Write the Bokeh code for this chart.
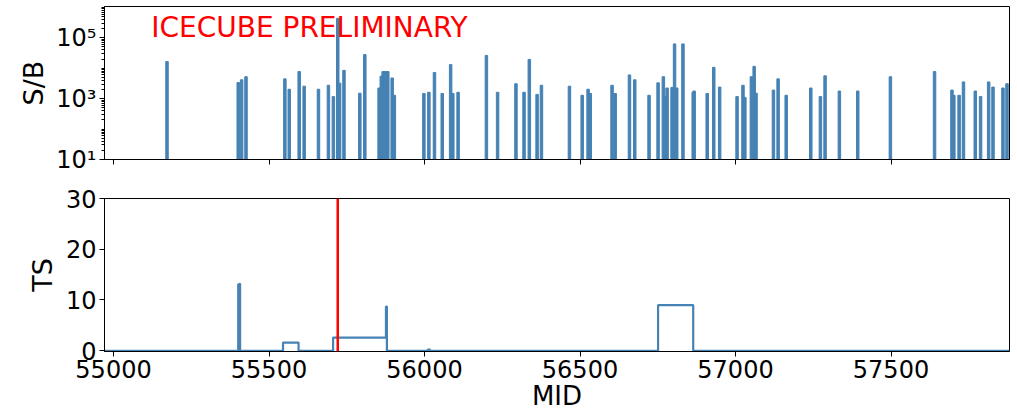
from bokeh.plotting import figure
from bokeh.layouts import column
from bokeh.models import Range1d, FixedTicker, Span, Label
from bokeh.embed import file_html
from bokeh.resources import INLINE

# ---- data ----
flare_mjd = [55172, 55401, 55412, 55426, 55551, 55565, 55597, 55613, 55659, 55691,
             55707, 55721, 55727, 55741, 55792, 55808, 55854, 55861, 55867, 55875,
             55882, 55896, 55903, 55998, 56014, 56032, 56057, 56084, 56091, 56108,
             56199, 56235, 56294, 56320, 56337, 56362, 56376, 56466, 56507, 56526,
             56533, 56603, 56613, 56659, 56676, 56722, 56751, 56768, 56774, 56780,
             56796, 56804, 56811, 56831, 56864, 56867, 56909, 56930, 56949, 57005,
             57024, 57030, 57051, 57060, 57066, 57122, 57137, 57163, 57242, 57273,
             57288, 57334, 57393, 57498, 57640, 57696, 57702, 57719, 57733, 57771,
             57788, 57814, 57828, 57860, 57873]
flare_sb = [16600, 3390, 4170, 5250, 4470, 2040, 7760, 2570, 2040, 2750,
            1170, 436000, 3240, 8510, 1510, 28200, 2240, 5500, 7760, 7760,
            7760, 4790, 1290, 1480, 1620, 7240, 1480, 13200, 1480, 1620,
            26300, 1620, 3090, 1620, 19500, 1380, 2750, 2570, 1290, 2040,
            1480, 2750, 1480, 6030, 4170, 1290, 3310, 5250, 1170, 2240,
            2340, 63100, 2240, 63100, 1620, 1780, 1480, 10700, 2400, 1170,
            2750, 1100, 5250, 11500, 1510, 1910, 4470, 1290, 2240, 1170,
            5620, 1780, 1780, 5250, 7760, 1910, 1290, 1290, 3550, 1780,
            1170, 3550, 2400, 2240, 3090]

ts_mjd = [54971, 55401, 55403, 55405, 55407, 55545, 55595, 55706, 55876, 55879, 56010, 56018, 56751, 56864, 57881]
ts_val = [0.0, 13.1, 12.8, 13.2, 0.0, 1.6, 0.0, 2.6, 8.7, 0.0, 0.2, 0.0, 9.0, 0.0, 0.0]

best_mjd = 55721

x_ticks = [55000, 55500, 56000, 56500, 57000, 57500]
sb_ticks = [10, 1000, 100000]
sb_labels = {10: "10¹", 1000: "10³", 100000: "10⁵"}
ts_ticks = [0, 10, 20, 30]

FONT = "DejaVu Sans"
BLUE = "#4682b4"

x_lo, x_hi = 54971, 57881
minor_sb = [m * 10 ** k for k in range(1, 6) for m in range(1, 10)] + [1000000]

# ---- top panel ----
p1 = figure(width=1017, height=178, output_backend="svg", toolbar_location=None,
            y_axis_type="log", x_range=Range1d(x_lo, x_hi), y_range=Range1d(10, 1.07e6),
            min_border_left=104, min_border_right=8, min_border_top=6, min_border_bottom=19)
p1.vbar(x=flare_mjd, top=flare_sb, bottom=10, width=8, color=BLUE)
p1.grid.visible = False
p1.outline_line_color = "black"
p1.outline_line_width = 1
p1.xaxis.ticker = FixedTicker(ticks=x_ticks)
p1.xaxis.major_label_text_font_size = "1px"
p1.xaxis.major_label_text_color = None
p1.xaxis.major_tick_out = 5
p1.xaxis.major_tick_in = 0
p1.xaxis.minor_tick_line_color = None
p1.yaxis.ticker = FixedTicker(ticks=sb_ticks, minor_ticks=minor_sb)
p1.yaxis.major_label_overrides = sb_labels
p1.yaxis.major_label_text_font = FONT
p1.yaxis.major_label_text_font_size = "24px"
p1.yaxis.major_label_text_color = "black"
p1.yaxis.major_label_standoff = 3
p1.yaxis.major_tick_out = 5
p1.yaxis.major_tick_in = 0
p1.yaxis.minor_tick_out = 3
p1.yaxis.minor_tick_in = 0
p1.yaxis.axis_label = "S/B"
p1.yaxis.axis_label_text_font = FONT
p1.yaxis.axis_label_text_font_size = "27px"
p1.yaxis.axis_label_text_font_style = "normal"
p1.yaxis.axis_label_text_color = "black"
p1.yaxis.axis_label_standoff = 4
p1.axis.axis_line_color = "black"
p1.add_layout(Label(x=55121, y=2.25e5, text="ICECUBE PRELIMINARY", text_color="red",
                    text_font=FONT, text_font_size="28px", text_baseline="alphabetic"))

# ---- bottom panel ----
p2 = figure(width=1017, height=236, output_backend="svg", toolbar_location=None,
            x_range=p1.x_range, y_range=Range1d(-0.15, 30),
            min_border_left=104, min_border_right=8, min_border_top=20, min_border_bottom=63)
p2.step(x=ts_mjd, y=ts_val, mode="after", line_color=BLUE, line_width=2.2)
p2.add_layout(Span(location=best_mjd, dimension="height", line_color="red", line_width=2.5))
p2.grid.visible = False
p2.outline_line_color = "black"
p2.xaxis.ticker = FixedTicker(ticks=x_ticks)
p2.yaxis.ticker = FixedTicker(ticks=ts_ticks)
for ax in (p2.xaxis, p2.yaxis):
    ax.major_label_text_font = FONT
    ax.major_label_text_font_size = "24px"
    ax.major_label_text_color = "black"
    ax.major_tick_out = 5
    ax.major_tick_in = 0
    ax.minor_tick_line_color = None
    ax.axis_line_color = "black"
    ax.axis_label_text_font = FONT
    ax.axis_label_text_font_style = "normal"
    ax.axis_label_text_color = "black"
p2.xaxis.major_label_standoff = 3
p2.xaxis.axis_label = "MID"
p2.xaxis.axis_label_text_font_size = "26px"
p2.xaxis.axis_label_standoff = 0
p2.yaxis.major_label_standoff = 3
p2.yaxis.axis_label = "TS"
p2.yaxis.axis_label_text_font_size = "27px"
p2.yaxis.axis_label_standoff = 5

layout = column(p1, p2, spacing=0)
open("out.html", "w").write(file_html(layout, INLINE))
